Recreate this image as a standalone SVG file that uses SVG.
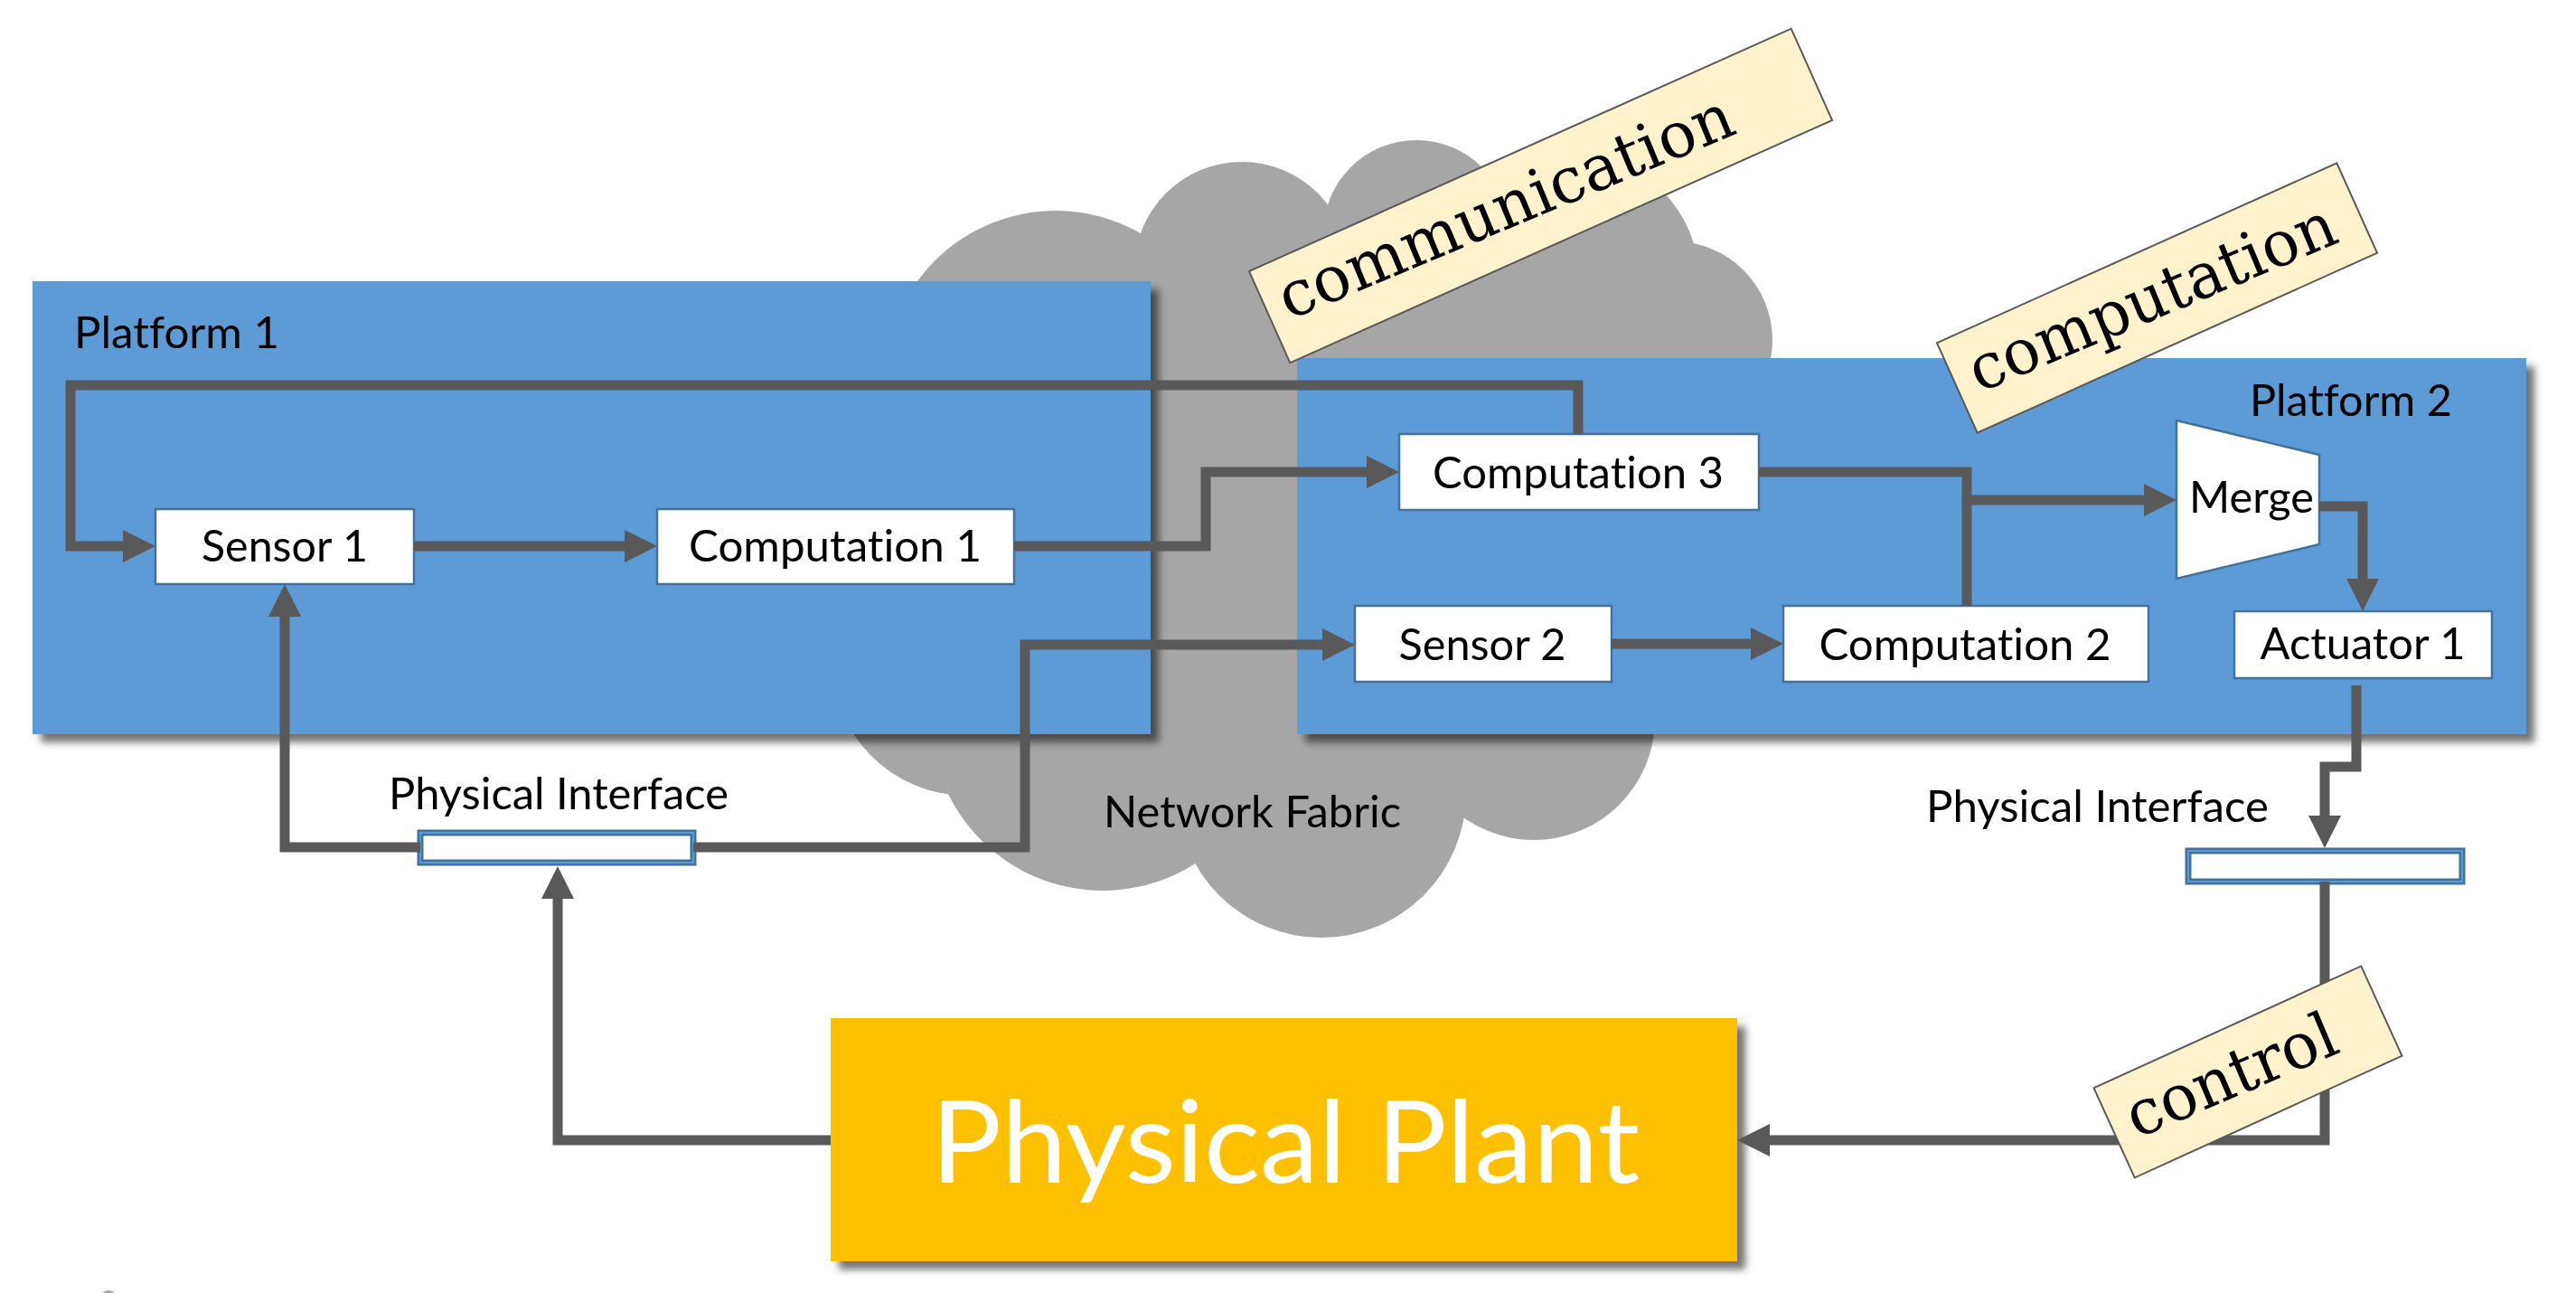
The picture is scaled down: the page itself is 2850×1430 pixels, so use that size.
<svg xmlns="http://www.w3.org/2000/svg" width="2850" height="1430" viewBox="0 0 2850 1430">
<defs>
<filter id="shadow" x="-5%" y="-5%" width="115%" height="120%">
<feDropShadow dx="9" dy="9" stdDeviation="4" flood-color="#000" flood-opacity="0.55"/>
</filter>
<marker id="arrow" viewBox="0 0 36 36" refX="5" refY="18" markerWidth="36" markerHeight="36" markerUnits="userSpaceOnUse" orient="auto">
<path d="M0,0 L36,18 L0,36 z" fill="#595959"/>
</marker>
<style>
text{font-variant-ligatures:none;font-feature-settings:"liga" 0,"clig" 0;}
.plat{fill:#5b9bd5;}
.box{fill:#fff;stroke:#41719c;stroke-width:2.5;}
.txt{font-family:Lato,"Open Sans",sans-serif;font-size:48px;fill:#000;}
.mid{text-anchor:middle;}
.conn{fill:none;stroke:#595959;stroke-width:11;stroke-linejoin:miter;}
.pi-out{fill:#fff;stroke:#41719c;stroke-width:7;}
.pi-in{fill:none;stroke:#5b9bd5;stroke-width:2;}
.lbl{fill:#fff2cc;stroke:#595959;stroke-width:2;}
.ltxt{font-family:"DejaVu Serif","Liberation Serif",serif;font-size:70px;fill:#000;}
.cloud{fill:#a6a6a6;}
</style>
</defs>
<rect width="2850" height="1430" fill="#fff"/>

<g id="cloud" class="cloud">
<polygon points="1000,600 1168,422 1374,298 1567,258 1740,310 1852,376 1900,700 1697,795 1462,877 1220,795 1070,730"/>
<circle cx="1168" cy="422" r="189"/>
<circle cx="1374" cy="298" r="119"/>
<circle cx="1567" cy="258" r="103"/>
<circle cx="1740" cy="310" r="140"/>
<circle cx="1852" cy="376" r="109"/>
<circle cx="1697" cy="795" r="134"/>
<circle cx="1462" cy="877" r="160"/>
<circle cx="1220" cy="795" r="190"/>
<circle cx="1070" cy="730" r="150"/>
<text class="txt" x="1221" y="915" textLength="329" lengthAdjust="spacingAndGlyphs">Network Fabric</text>
</g>
<circle cx="120" cy="1435" r="8" fill="#a6a6a6"/>

<g id="platform1">
<rect class="plat" x="36" y="311" width="1237" height="501" filter="url(#shadow)"/>
<text class="txt" x="82" y="385" textLength="227" lengthAdjust="spacingAndGlyphs">Platform 1</text>
</g>
<g id="platform2">
<rect class="plat" x="1435" y="396" width="1360" height="416" filter="url(#shadow)"/>
<text class="txt" x="2489" y="460" textLength="224" lengthAdjust="spacingAndGlyphs">Platform 2</text>
</g>

<g id="plant">
<rect x="919" y="1126" width="1003" height="269" fill="#ffc000" filter="url(#shadow)"/>
<text x="1030" y="1308" font-family="Lato,'Open Sans',sans-serif" font-size="126" fill="#fff" textLength="784" lengthAdjust="spacingAndGlyphs">Physical Plant</text>
</g>

<g id="sensor1">
<rect class="box" x="172" y="563" width="286" height="83"/>
<text class="txt mid" x="315" y="621" textLength="184" lengthAdjust="spacingAndGlyphs">Sensor 1</text>
</g>
<g id="computation1">
<rect class="box" x="727" y="563" width="395" height="83"/>
<text class="txt mid" x="924" y="621" textLength="324" lengthAdjust="spacingAndGlyphs">Computation 1</text>
</g>
<g id="computation3">
<rect class="box" x="1548" y="480" width="398" height="84"/>
<text class="txt mid" x="1746" y="540" textLength="322" lengthAdjust="spacingAndGlyphs">Computation 3</text>
</g>
<g id="sensor2">
<rect class="box" x="1499" y="670" width="284" height="84"/>
<text class="txt mid" x="1640" y="730" textLength="185" lengthAdjust="spacingAndGlyphs">Sensor 2</text>
</g>
<g id="computation2">
<rect class="box" x="1973" y="670" width="404" height="84"/>
<text class="txt mid" x="2174" y="730" textLength="323" lengthAdjust="spacingAndGlyphs">Computation 2</text>
</g>
<g id="merge">
<polygon class="box" points="2408,465 2566,503 2566,602 2408,640"/>
<text class="txt" x="2422" y="567" textLength="138" lengthAdjust="spacingAndGlyphs">Merge</text>
</g>
<g id="actuator1">
<rect class="box" x="2472" y="676" width="285" height="74"/>
<text class="txt mid" x="2614" y="729" textLength="227" lengthAdjust="spacingAndGlyphs">Actuator 1</text>
</g>
<g id="pi1">
<rect class="pi-out" x="465" y="921" width="302" height="33"/>
<rect class="pi-in" x="465" y="921" width="302" height="33"/>
<text class="txt" x="430" y="895" textLength="376" lengthAdjust="spacingAndGlyphs">Physical Interface</text>
</g>
<g id="pi2">
<rect class="pi-out" x="2421" y="941" width="303" height="34"/>
<rect class="pi-in" x="2421" y="941" width="303" height="34"/>
<text class="txt" x="2131" y="909" textLength="379" lengthAdjust="spacingAndGlyphs">Physical Interface</text>
</g>

<g id="connectors">
<path class="conn" d="M1746,480 V426 H78 V604 H141" marker-end="url(#arrow)"/>
<path class="conn" d="M458,604 H696" marker-end="url(#arrow)"/>
<path class="conn" d="M1122,604 H1334 V522 H1517" marker-end="url(#arrow)"/>
<path class="conn" d="M767,937 H1134 V713 H1468" marker-end="url(#arrow)"/>
<path class="conn" d="M465,937 H315 V677" marker-end="url(#arrow)"/>
<path class="conn" d="M919,1261 H617 V989" marker-end="url(#arrow)"/>
<path class="conn" d="M1783,712 H1942" marker-end="url(#arrow)"/>
<path class="conn" d="M1946,522 H2176 V553"/>
<path class="conn" d="M2176,670 V553 H2377" marker-end="url(#arrow)"/>
<path class="conn" d="M2566,560 H2614 V645" marker-end="url(#arrow)"/>
<path class="conn" d="M2607,758 V848 H2572 V907" marker-end="url(#arrow)"/>
<path class="conn" d="M2572,975 V1261 H1953" marker-end="url(#arrow)"/>
</g>

<g id="label-communication" transform="translate(1704.5,216.5) rotate(-24.1)">
<rect class="lbl" x="-328.5" y="-55.5" width="657" height="111"/>
<text class="ltxt" x="-310" y="20" transform="rotate(1.5)" textLength="539" lengthAdjust="spacingAndGlyphs">communication</text>
</g>
<g id="label-computation" transform="translate(2386.5,329.5) rotate(-24.2)">
<rect class="lbl" x="-242.5" y="-54.5" width="485" height="109"/>
<text class="ltxt" x="-222" y="21" transform="rotate(1.5)" textLength="434" lengthAdjust="spacingAndGlyphs">computation</text>
</g>
<g id="label-control" transform="translate(2487,1185.5) rotate(-24.5)">
<rect class="lbl" x="-162.5" y="-54.5" width="325" height="109"/>
<text class="ltxt" x="-142" y="20" transform="rotate(1.5)" textLength="247" lengthAdjust="spacingAndGlyphs">control</text>
</g>
</svg>
